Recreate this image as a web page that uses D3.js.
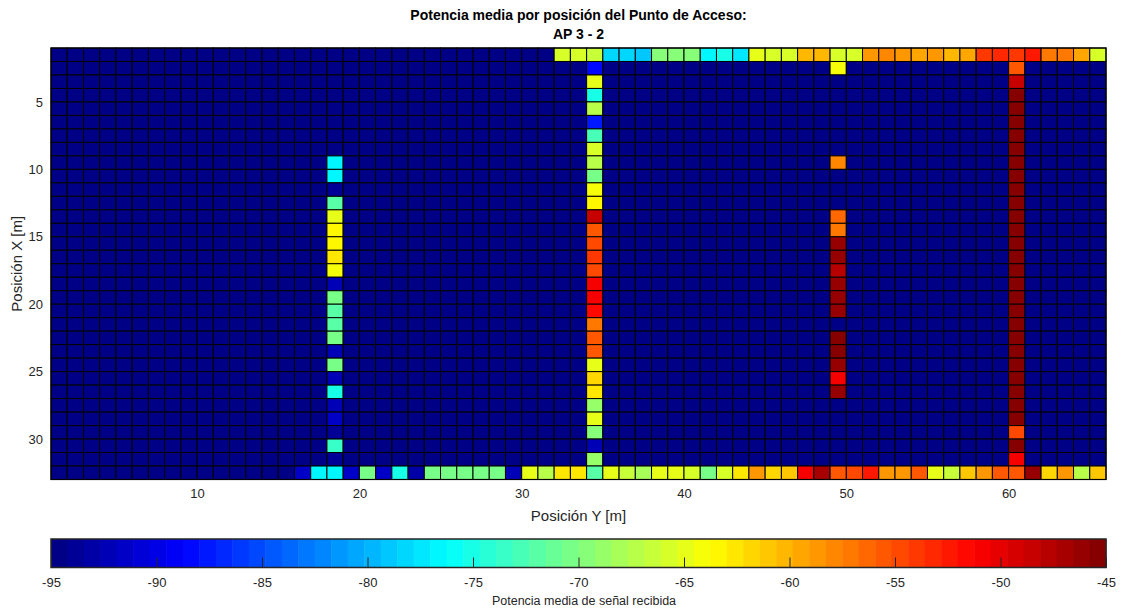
<!DOCTYPE html>
<html>
<head>
<meta charset="utf-8">
<script src="https://cdn.jsdelivr.net/npm/d3@7"></script>
<style>
  html, body { margin: 0; padding: 0; background: #fff; }
  svg { display: block; }
  text { font-family: "Liberation Sans", Arial, Helvetica, sans-serif; }
</style>
</head>
<body>
<svg id="chart" width="1126" height="612"></svg>
<script>
// Received power grid (dBm): 32 rows (X position) by 65 columns (Y position).
const nRows = 32;
const nCols = 65;
const floorValue = -95;            // cells with no measurable signal
const colorMin = -95, colorMax = -45;

// Row X = 1, columns Y = 32..65
const topRowStart = 32;
const topRow = [-65.7, -65.7, -66.5, -78.2, -78.2, -79.0, -69.6, -69.6, -69.6, -76.6,
                -75.1, -77.4, -64.9, -65.7, -65.7, -60.2, -60.2, -65.7, -65.7, -58.6,
                -57.8, -58.6, -59.4, -58.6, -60.2, -59.4, -53.9, -53.1, -53.9, -52.4,
                -57.0, -57.0, -59.4, -65.7];

// Row X = 32, columns Y = 16..65
const bottomRowStart = 16;
const bottomRow = [-91.5, -76.6, -76.6, -91.5, -70.4, -91.5, -74.7, -93.0, -70.4, -70.4,
                   -70.4, -70.4, -70.4, -92.2, -64.9, -67.2, -62.5, -62.5, -72.3, -64.9,
                   -66.5, -68.0, -64.9, -64.9, -66.0, -70.4, -66.0, -62.5, -58.6, -61.7,
                   -60.9, -50.8, -46.9, -55.5, -54.7, -52.4, -58.6, -58.6, -55.5, -64.9,
                   -66.5, -60.9, -58.6, -55.5, -55.5, -46.5, -61.7, -58.6, -67.2, -60.9];

// Interior columns, rows X = 2..31 (null = no signal)
const col18 = [null, null, null, null, null, null, null, -76.6, -76.6, -94.2,
               -72.3, -64.9, -63.3, -63.3, -62.5, -64.5, -92.2, -70.4, -72.3, -71.9,
               -70.4, -92.2, -70.4, -92.2, -75.1, -92.2, -91.5, -94.2, -73.5, -94.2];
const col34 = [-88.4, -64.9, -75.1, -67.2, -87.6, -72.7, -65.7, -67.2, -70.4, -64.1,
               -63.6, -48.4, -55.5, -54.7, -53.9, -54.7, -50.8, -50.8, -51.6, -57.0,
               -55.5, -55.5, -64.9, -61.7, -62.5, -68.8, -64.9, -69.6, -92.2, -68.8];
const col49 = [-64.1, null, null, null, null, null, null, -57.8, null, null,
               null, -56.3, -57.0, -46.1, -46.1, -47.7, -46.1, -46.1, -46.1, null,
               -45.4, -45.4, -46.1, -50.8, -46.5, null, null, null, null, null];
const col60 = [-55.5, -48.4, -45.4, -45.4, -45.4, -45.4, -45.4, -45.4, -45.4, -45.4,
               -45.4, -45.4, -45.4, -45.4, -45.4, -45.4, -45.4, -45.4, -45.4, -45.4,
               -45.4, -45.4, -45.4, -45.4, -45.4, -45.4, -45.4, -54.7, -45.4, -50.8];

const xTicks = [5, 10, 15, 20, 25, 30];
const yTicks = [10, 20, 30, 40, 50, 60];
const cbTicks = [-95, -90, -85, -80, -75, -70, -65, -60, -55, -50, -45];

// Assemble the full grid
const grid = [];
for (let r = 1; r <= nRows; r++) {
  for (let c = 1; c <= nCols; c++) grid.push({ r, c, v: floorValue });
}
const setCell = (r, c, v) => { if (v !== null) grid[(r - 1) * nCols + (c - 1)].v = v; };
topRow.forEach((v, i) => setCell(1, topRowStart + i, v));
bottomRow.forEach((v, i) => setCell(nRows, bottomRowStart + i, v));
[[18, col18], [34, col34], [49, col49], [60, col60]].forEach(([c, arr]) =>
  arr.forEach((v, i) => setCell(i + 2, c, v)));

// 64-level jet colormap
function jet(t) {
  const r = Math.min(Math.max(Math.min(4 * t - 1.5, -4 * t + 4.5), 0), 1);
  const g = Math.min(Math.max(Math.min(4 * t - 0.5, -4 * t + 3.5), 0), 1);
  const b = Math.min(Math.max(Math.min(4 * t + 0.5, -4 * t + 2.5), 0), 1);
  return d3.rgb(r * 255, g * 255, b * 255).formatHex();
}
const nLevels = 64;
const palette = d3.range(nLevels).map(k => jet((k + 0.5) / nLevels));
const colorOf = v => palette[Math.max(0, Math.min(nLevels - 1,
  Math.floor((v - colorMin) / (colorMax - colorMin) * nLevels)))];

const svg = d3.select("#chart");
const plot = { left: 51, right: 1106, top: 48, bottom: 479.5 };

// Cell vertices sit on integer positions (Y 1..66, X 1..33)
const x = d3.scaleLinear().domain([1, nCols + 1]).range([plot.left, plot.right]);
const y = d3.scaleLinear().domain([1, nRows + 1]).range([plot.top, plot.bottom]);

svg.append("g")
  .selectAll("rect")
  .data(grid)
  .join("rect")
  .attr("x", d => x(d.c))
  .attr("y", d => y(d.r))
  .attr("width", d => x(d.c + 1) - x(d.c))
  .attr("height", d => y(d.r + 1) - y(d.r))
  .attr("fill", d => colorOf(d.v))
  .attr("stroke", "#000")
  .attr("stroke-width", 1);

// Axes box
svg.append("rect")
  .attr("x", plot.left).attr("y", plot.top)
  .attr("width", plot.right - plot.left).attr("height", plot.bottom - plot.top)
  .attr("fill", "none").attr("stroke", "#000").attr("stroke-width", 1.2);

const xAxis = svg.append("g")
  .attr("transform", `translate(0,${plot.bottom})`)
  .call(d3.axisBottom(x).tickValues(yTicks).tickSize(0).tickPadding(9));
const yAxis = svg.append("g")
  .attr("transform", `translate(${plot.left},0)`)
  .call(d3.axisLeft(y).tickValues(xTicks).tickSize(0).tickPadding(8));
[xAxis, yAxis].forEach(g => {
  g.select(".domain").remove();
  g.selectAll("text").attr("font-size", 13).attr("fill", "#262626");
});

// Titles and axis labels
svg.append("text")
  .attr("x", 578.5).attr("y", 20)
  .attr("text-anchor", "middle").attr("font-size", 14).attr("font-weight", "bold")
  .attr("fill", "#000")
  .text("Potencia media por posición del Punto de Acceso:");
svg.append("text")
  .attr("x", 578.5).attr("y", 39)
  .attr("text-anchor", "middle").attr("font-size", 14).attr("font-weight", "bold")
  .attr("fill", "#000")
  .text("AP 3 - 2");
svg.append("text")
  .attr("x", 578.5).attr("y", 521)
  .attr("text-anchor", "middle").attr("font-size", 15).attr("fill", "#262626")
  .text("Posición Y [m]");
svg.append("text")
  .attr("transform", `translate(22,${(plot.top + plot.bottom) / 2}) rotate(-90)`)
  .attr("text-anchor", "middle").attr("font-size", 15).attr("fill", "#262626")
  .text("Posición X [m]");

// Colorbar
const cb = { left: 51, right: 1106, top: 539, bottom: 567.5 };
const cbx = d3.scaleLinear().domain([colorMin, colorMax]).range([cb.left, cb.right]);
const step = (colorMax - colorMin) / nLevels;
svg.append("g")
  .selectAll("rect")
  .data(palette)
  .join("rect")
  .attr("x", (d, i) => cbx(colorMin + i * step))
  .attr("y", cb.top)
  .attr("width", (d, i) => cbx(colorMin + (i + 1) * step) - cbx(colorMin + i * step) + 0.5)
  .attr("height", cb.bottom - cb.top)
  .attr("fill", d => d);

const cbAxis = svg.append("g")
  .attr("transform", `translate(0,${cb.bottom})`)
  .call(d3.axisBottom(cbx).tickValues(cbTicks).tickFormat(d => String(d))
    .tickSizeInner(-10).tickSizeOuter(0).tickPadding(10));
cbAxis.select(".domain").remove();
cbAxis.selectAll("line").attr("stroke", "#262626").attr("stroke-width", 1);
cbAxis.selectAll("text").attr("font-size", 13).attr("fill", "#262626");

svg.append("rect")
  .attr("x", cb.left).attr("y", cb.top)
  .attr("width", cb.right - cb.left).attr("height", cb.bottom - cb.top)
  .attr("fill", "none").attr("stroke", "#262626").attr("stroke-width", 1.5);

svg.append("text")
  .attr("x", 584).attr("y", 605)
  .attr("text-anchor", "middle").attr("font-size", 12.5).attr("fill", "#262626")
  .text("Potencia media de señal recibida");
</script>
</body>
</html>
